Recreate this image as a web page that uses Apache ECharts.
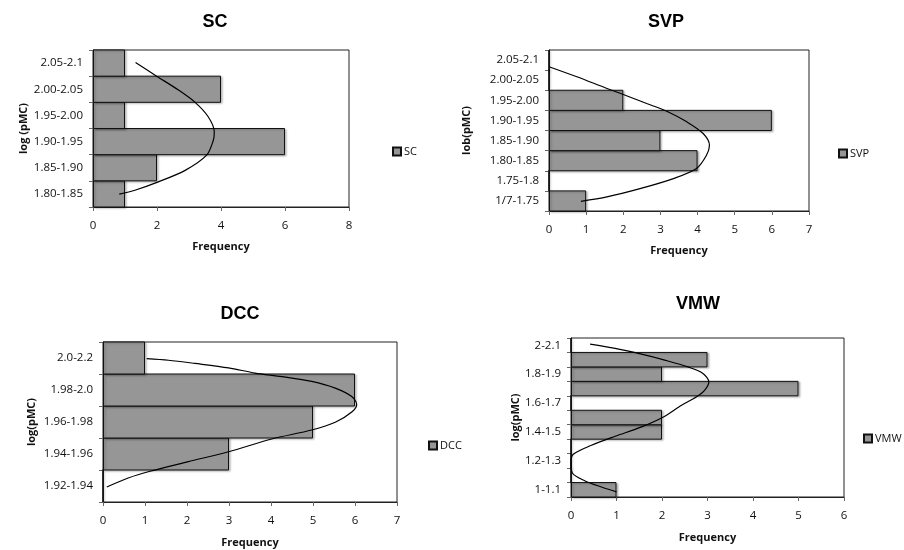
<!DOCTYPE html>
<html>
<head>
<meta charset="utf-8">
<script src="https://cdn.jsdelivr.net/npm/echarts@6/dist/echarts.min.js"></script>
<style>
  html, body { margin: 0; padding: 0; background: #ffffff; }
  #chart { width: 904px; height: 550px; }
</style>
</head>
<body>
<div id="chart"></div>
<script>
// Frequency of log(pMC) classes per site; bins listed bottom to top.
// Fitted curves: [frequency, position in bin units from the bottom edge].

const scBins = ['1.80-1.85', '1.85-1.90', '1.90-1.95', '1.95-2.00', '2.00-2.05', '2.05-2.1'];
const scFreq = [1, 2, 6, 1, 4, 1];
const scCurve = [[0.82, 0.49], [1.31, 0.64], [2.04, 0.96], [2.88, 1.4], [3.55, 1.98], [3.76, 2.55],
  [3.79, 2.87], [3.6, 3.45], [3.19, 4.0], [2.67, 4.47], [1.99, 5.0], [1.33, 5.52]];

const svpBins = ['1/7-1.75', '1.75-1.8', '1.80-1.85', '1.85-1.90', '1.90-1.95', '1.95-2.00', '2.00-2.05', '2.05-2.1'];
const svpFreq = [1, 0, 4, 3, 6, 2, 0, 0];
const svpCurve = [[0.86, 0.48], [1.56, 0.70], [2.45, 1.11], [3.35, 1.61], [3.97, 2.11], [4.24, 2.77],
  [4.32, 3.27], [4.15, 3.85], [3.71, 4.43], [3.17, 4.96], [2.63, 5.34], [2.0, 5.79], [1.56, 6.09],
  [0.75, 6.67], [0, 7.17]];

const dccBins = ['1.92-1.94', '1.94-1.96', '1.96-1.98', '1.98-2.0', '2.0-2.2'];
const dccFreq = [0, 3, 5, 6, 1];
const dccCurve = [[0.09, 0.47], [0.6, 0.75], [1.12, 0.96], [2.03, 1.26], [2.99, 1.57], [4.02, 1.97],
  [4.97, 2.25], [5.53, 2.49], [5.93, 2.82], [6.04, 3.05], [5.93, 3.29], [5.53, 3.56], [4.97, 3.77],
  [4.26, 3.92], [3.62, 4.03], [2.99, 4.19], [2.19, 4.33], [1.56, 4.43], [1.04, 4.48]];

const vmwBins = ['1-1.1', '1.1-1.2', '1.2-1.3', '1.3-1.4', '1.4-1.5', '1.5-1.6', '1.6-1.7', '1.7-1.8', '1.8-1.9', '1.9-2', '2-2.1'];
const vmwFreq = [1, 0, 0, 0, 2, 2, 0, 5, 2, 3, 0];
const vmwCurve = [[1.0, 0.35], [0.67, 0.69], [0.31, 1.11], [0.03, 1.66], [0, 2.4], [0.05, 2.96],
  [0.45, 3.58], [0.97, 4.2], [1.55, 4.85], [2.03, 5.54], [2.43, 6.35], [2.76, 6.93], [2.94, 7.39],
  [3.03, 7.97], [2.9, 8.55], [2.57, 9.0], [2.06, 9.47], [1.55, 9.88], [0.97, 10.28], [0.42, 10.58]];

const freqMax = { SC: 8, SVP: 7, DCC: 7, VMW: 6 };
const freqStep = { SC: 2, SVP: 1, DCC: 1, VMW: 1 };
const yNames = { SC: 'log (pMC)', SVP: 'lob(pMC)', DCC: 'log(pMC)', VMW: 'log(pMC)' };

const panels = [
  { name: 'SC', bins: scBins, freq: scFreq, curve: scCurve,
    grid: { left: 93, top: 50, width: 256, height: 157 },
    titleX: 215, titleY: 13, legend: { left: 392, top: 146 }, yGap: 64, xGap: 34, labelEvery: 0 },
  { name: 'SVP', bins: svpBins, freq: svpFreq, curve: svpCurve,
    grid: { left: 549, top: 50, width: 260, height: 161 },
    titleX: 666, titleY: 13, legend: { left: 838, top: 148 }, yGap: 77, xGap: 34, labelEvery: 0 },
  { name: 'DCC', bins: dccBins, freq: dccFreq, curve: dccCurve,
    grid: { left: 103, top: 342, width: 294, height: 160 },
    titleX: 240, titleY: 305, legend: { left: 428, top: 440 }, yGap: 66, xGap: 35, labelEvery: 0 },
  { name: 'VMW', bins: vmwBins, freq: vmwFreq, curve: vmwCurve,
    grid: { left: 571, top: 338, width: 273, height: 159 },
    titleX: 698, titleY: 295, legend: { left: 863, top: 433 }, yGap: 50, xGap: 35, labelEvery: 1 }
];

const TXT = '#111';
const FONT = '"Open Sans", "DejaVu Sans", sans-serif';

const option = {
  backgroundColor: '#ffffff',
  animation: false,
  title: [], grid: [], xAxis: [], yAxis: [], series: [], legend: []
};

panels.forEach((p, i) => {
  // bars fill their whole class band; one extra pixel lets neighbouring outlines merge
  const band = p.grid.height / p.bins.length + 1;
  option.title.push({
    text: p.name, left: p.titleX, top: p.titleY, textAlign: 'center', padding: 0,
    textStyle: { fontFamily: '"Liberation Sans", Arial, sans-serif', fontWeight: 'bold', fontSize: 18, color: '#000' }
  });
  option.grid.push(Object.assign({ show: true, borderColor: '#222', borderWidth: 1, backgroundColor: '#fff' }, p.grid));
  option.xAxis.push({
    type: 'value', gridIndex: i, min: 0, max: freqMax[p.name], interval: freqStep[p.name],
    name: 'Frequency', nameLocation: 'middle', nameGap: p.xGap,
    nameTextStyle: { fontFamily: FONT, fontWeight: 'bold', fontSize: 11, color: TXT },
    axisLine: { show: true, lineStyle: { color: '#222', width: 1 } },
    axisTick: { show: true, length: 4, lineStyle: { color: '#666' } },
    axisLabel: { margin: 13, fontFamily: FONT, fontSize: 11.5, color: TXT },
    splitLine: { show: false }
  });
  option.yAxis.push({
    type: 'category', gridIndex: i, data: p.bins, boundaryGap: true,
    name: yNames[p.name], nameLocation: 'middle', nameRotate: 90, nameGap: p.yGap,
    nameTextStyle: { fontFamily: FONT, fontWeight: 'bold', fontSize: 11, color: TXT },
    axisLine: { show: true, lineStyle: { color: '#222', width: 1 } },
    axisTick: { show: true, length: 4, interval: 0, lineStyle: { color: '#666' } },
    axisLabel: { margin: 10, interval: p.labelEvery, fontFamily: FONT, fontSize: 11.5, color: TXT },
    splitLine: { show: false }
  });
  // hidden linear axis measuring height in bin units, used by the curve
  option.yAxis.push({
    type: 'value', gridIndex: i, min: 0, max: p.bins.length, show: false, splitLine: { show: false }
  });
  option.series.push({
    name: p.name, type: 'bar', xAxisIndex: i, yAxisIndex: 2 * i, data: p.freq,
    barWidth: band,
    itemStyle: { color: '#969696', borderColor: '#111', borderWidth: 1,
      shadowColor: 'rgba(0,0,0,0.25)', shadowBlur: 2, shadowOffsetX: 1.5, shadowOffsetY: 1 }
  });
  option.series.push({
    name: p.name + ' curve', type: 'line', xAxisIndex: i, yAxisIndex: 2 * i + 1, data: p.curve,
    smooth: 0.3, showSymbol: false, symbol: 'none', z: 5,
    lineStyle: { color: '#000', width: 1.2 }
  });
  option.legend.push({
    data: [p.name], left: p.legend.left, top: p.legend.top, orient: 'vertical',
    itemWidth: 8, itemHeight: 8, icon: 'rect', padding: 0, itemGap: 0,
    itemStyle: { shadowBlur: 0, shadowOffsetX: 0, shadowOffsetY: 0 },
    textStyle: { fontFamily: FONT, fontSize: 11, color: TXT, padding: [0, 0, 0, -2] }
  });
});

const chart = echarts.init(document.getElementById('chart'), null, { renderer: 'canvas' });
chart.setOption(option);
</script>
</body>
</html>
